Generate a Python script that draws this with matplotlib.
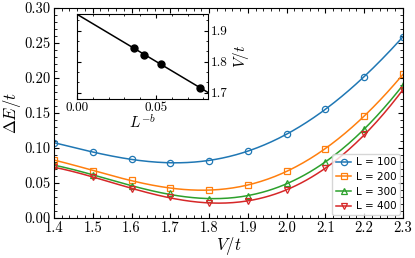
import numpy as np
import matplotlib
matplotlib.use("Agg")
import matplotlib.pyplot as plt
from matplotlib.ticker import MultipleLocator, AutoMinorLocator

plt.rcParams['font.family'] = 'serif'
plt.rcParams['font.serif'] = ['cmr10']
plt.rcParams['mathtext.fontset'] = 'cm'
plt.rcParams['axes.formatter.use_mathtext'] = True

# gap data
V = [1.4, 1.5, 1.6, 1.7, 1.8, 1.9, 2.0, 2.1, 2.2, 2.3]
sizes = [100, 200, 300, 400]
gap_100 = [0.1076, 0.0943, 0.0838, 0.0790, 0.0819, 0.0957, 0.1200, 0.1553, 0.2019, 0.2590]
gap_200 = [0.0829, 0.0676, 0.0538, 0.0429, 0.0395, 0.0471, 0.0671, 0.0990, 0.1457, 0.2052]
gap_300 = [0.0757, 0.0614, 0.0457, 0.0353, 0.0267, 0.0314, 0.0495, 0.0805, 0.1267, 0.1900]
gap_400 = [0.0729, 0.0580, 0.0419, 0.0305, 0.0210, 0.0243, 0.0400, 0.0710, 0.1195, 0.1830]

# inset: critical V vs L^-b
L_b = [0.0364, 0.0427, 0.0534, 0.0780]
Vc = [1.843, 1.822, 1.792, 1.716]

markers = ['o', 's', '^', 'v']
colors = ['tab:blue', 'tab:orange', 'tab:green', 'tab:red']

fig = plt.figure(figsize=(4.15, 2.58), dpi=100)
ax = fig.add_axes([0.130, 0.155, 0.841, 0.814])

vv = np.linspace(1.4, 2.3, 200)
for L, gap, m, c in zip(sizes, [gap_100, gap_200, gap_300, gap_400], markers, colors):
    p = np.polyfit(V, gap, 4)
    ax.plot(vv, np.polyval(p, vv), color=c, lw=1.1)
    ax.plot(V, gap, ls='none', marker=m, ms=4.5, mfc='none', mec=c, mew=0.9)
    ax.plot([], [], color=c, lw=1.1, marker=m, ms=4.5, mfc='none', mec=c, mew=0.9,
            label=f'L = {L}')

ax.set_xlim(1.4, 2.3)
ax.set_ylim(0, 0.30)
ax.xaxis.set_major_locator(MultipleLocator(0.1))
ax.xaxis.set_minor_locator(MultipleLocator(0.02))
ax.yaxis.set_major_locator(MultipleLocator(0.05))
ax.yaxis.set_minor_locator(MultipleLocator(0.01))
ax.xaxis.set_major_formatter(plt.FormatStrFormatter('%.1f'))
ax.yaxis.set_major_formatter(plt.FormatStrFormatter('%.2f'))
ax.tick_params(which='both', direction='in', top=True, right=True, labelsize=10.5)
ax.tick_params(which='major', length=3.5, pad=2.5)
ax.tick_params(which='minor', length=2)
ax.set_xlabel(r'$V/t$', fontsize=12, labelpad=0)
ax.set_ylabel(r'$\Delta E/t$', fontsize=12, labelpad=1)

leg = ax.legend(loc='lower right', prop={'family': 'DejaVu Sans', 'size': 7.5},
                handlelength=1.5, handletextpad=0.4, labelspacing=0.45,
                borderpad=0.35, borderaxespad=0.3)

# inset
ax_in = fig.add_axes([0.1855, 0.616, 0.316, 0.330])
p1 = np.polyfit(L_b, Vc, 1)
xx = np.linspace(0, 0.083, 50)
ax_in.plot(xx, np.polyval(p1, xx), color='black', lw=1.1)
ax_in.plot(L_b, Vc, ls='none', marker='o', ms=5, color='black')
ax_in.set_xlim(0, 0.083)
ax_in.set_ylim(1.68, 1.954)
ax_in.xaxis.set_major_locator(MultipleLocator(0.05))
ax_in.xaxis.set_minor_locator(MultipleLocator(0.01))
ax_in.yaxis.set_major_locator(MultipleLocator(0.1))
ax_in.yaxis.set_minor_locator(AutoMinorLocator(3))
ax_in.xaxis.set_major_formatter(plt.FormatStrFormatter('%.2f'))
ax_in.yaxis.set_major_formatter(plt.FormatStrFormatter('%.1f'))
ax_in.yaxis.tick_right()
ax_in.yaxis.set_label_position('right')
ax_in.tick_params(which='both', direction='in', top=True, left=True, right=True,
                  labelsize=9.5, pad=2)
ax_in.tick_params(which='major', length=3)
ax_in.tick_params(which='minor', length=1.5)
ax_in.set_xlabel(r'$L^{-b}$', fontsize=11, labelpad=0)
ax_in.set_ylabel(r'$V/t$', fontsize=11, labelpad=2)

fig.savefig('out.png', dpi=100)
